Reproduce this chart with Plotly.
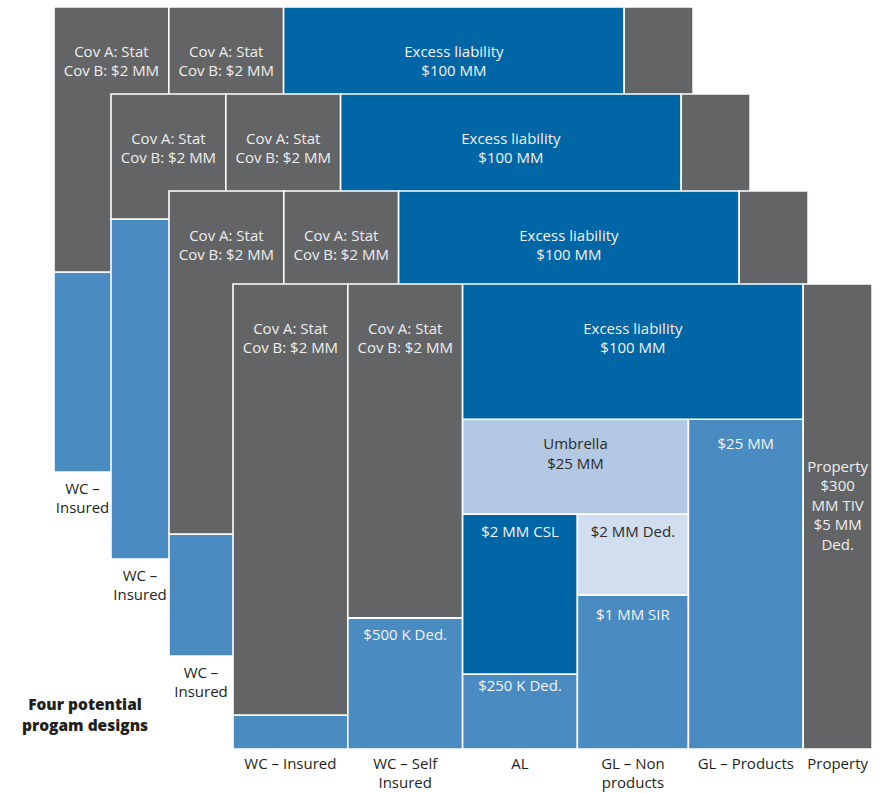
import plotly.graph_objects as go

# ---------------------------------------------------------------- data
# Lines of coverage, left to right, under each program tower
lines_of_coverage = ["WC – Insured", "WC – Self<br>Insured", "AL",
                     "GL – Non<br>products", "GL – Products", "Property"]

# Layers of the front program (share of tower height, %)
layer_labels = [
    "",
    "Cov A: Stat<br>Cov B: $2 MM",
    "$500 K Ded.",
    "Cov A: Stat<br>Cov B: $2 MM",
    "$250 K Ded.",
    "$2 MM CSL",
    "$1 MM SIR",
    "$2 MM Ded.",
    "Umbrella<br>$25 MM",
    "$25 MM",
    "Excess liability<br>$100 MM",
    "Property<br>$300<br>MM TIV<br>$5 MM<br>Ded.",
]
layer_first_line = [0, 0, 1, 1, 2, 2, 3, 3, 2, 4, 2, 5]
layer_lines_spanned = [1, 1, 1, 1, 1, 1, 1, 1, 2, 1, 3, 1]
layer_base = [0, 7.3, 0, 28.2, 0, 16.1, 0, 33.1, 50.5, 0, 70.9, 0]
layer_height = [7.3, 92.7, 28.2, 71.8, 16.1, 34.4, 33.1, 17.4, 20.4, 70.9, 29.1, 100]
layer_kind = ["retained", "employers", "retained", "employers", "retained",
              "primary", "retained", "deductible", "umbrella", "retained",
              "primary", "property"]

# Insured WC share of the tower in each of the four designs, back to front
wc_insured_share = [43.0, 73.1, 26.2, 7.3]

title_text = "Four potential<br>progam designs"

# ---------------------------------------------------------------- styling
W, H = 884, 793
PX_X = 114.8          # pixels per column unit
PX_Y = 4.65           # pixels per percent of tower height
COL_W = [1.0, 1.0, 1.0, 0.967, 1.0, 0.6]
FRONT_LEFT_PX, FRONT_BOTTOM_PX = 233, 749
DESIGN_LEFT_PX = [54, 111, 169, 233]
DESIGN_BOTTOM_PX = [472, 559, 656, 749]
# distance from a layer's top edge down to its first text line
FIRST_LINE_PX = [0, 45, 17, 45, 12, 17.7, 20, 17.7, 25, 24.5, 45, 184.5]
LINE_PITCH = 18.4
NUDGE = 1.5           # glyph centre vs. anchor point

FILL = {
    "employers": "#636466",
    "property": "#636466",
    "primary": "#0066A6",
    "retained": "#4A8BC2",
    "umbrella": "#B3C8E3",
    "deductible": "#D1DEEF",
}
TEXT_ON = {
    "employers": "#EEEEEE", "property": "#EEEEEE", "primary": "#F2F2F2",
    "retained": "#F2F2F2", "umbrella": "#2B2B2B", "deductible": "#2B2B2B",
}
FONT = "Open Sans"
SIZE = 15
INK = "#231F20"


def ux(px):
    return (px - FRONT_LEFT_PX) / PX_X


def uy(px):
    return (FRONT_BOTTOM_PX - px) / PX_Y


def add_label(store, x, top_y, first_px, text, color):
    """Queue a (possibly multi-line) label centred below top_y (data units)."""
    n = text.count("<br>") + 1
    centre_px = first_px + (n - 1) * LINE_PITCH / 2 + NUDGE
    store["x"].append(x)
    store["y"].append(top_y - centre_px / PX_Y)
    store["t"].append(text)
    store["c"].append(color)


col_edges = [0.0]
for w in COL_W:
    col_edges.append(col_edges[-1] + w)

fig = go.Figure()
last = len(wc_insured_share) - 1

for d, share in enumerate(wc_insured_share):
    dx = ux(DESIGN_LEFT_PX[d])
    dy = uy(DESIGN_BOTTOM_PX[d])
    base = list(layer_base)
    height = list(layer_height)
    height[0] = share
    base[1] = share
    height[1] = 100 - share

    labels = {"x": [], "y": [], "t": [], "c": []}
    for i in range(len(layer_labels)):
        c0 = layer_first_line[i]
        x0 = dx + col_edges[c0]
        x1 = dx + col_edges[c0 + layer_lines_spanned[i]]
        y0 = dy + base[i]
        y1 = y0 + height[i]
        kind = layer_kind[i]
        fig.add_trace(go.Scatter(
            x=[x0, x1, x1, x0, x0], y=[y0, y0, y1, y1, y0],
            mode="lines", fill="toself", fillcolor=FILL[kind],
            line=dict(color="#FFFFFF", width=1.6),
            hoverinfo="skip", showlegend=False,
        ))
        # towers further back only show the labels along their top row
        top_row = abs(base[i] + height[i] - 100) < 1e-9 and kind != "property"
        if layer_labels[i] and (d == last or top_row):
            add_label(labels, (x0 + x1) / 2, y1, FIRST_LINE_PX[i],
                      layer_labels[i], TEXT_ON[kind])

    # line-of-coverage captions under the tower
    if d < last:
        mid = ux((DESIGN_LEFT_PX[d] + DESIGN_LEFT_PX[d + 1]) / 2)
        add_label(labels, mid, dy, 17,
                  lines_of_coverage[0].replace(" – ", " –<br>"), INK)
    else:
        for c, name in enumerate(lines_of_coverage):
            mid = dx + (col_edges[c] + col_edges[c + 1]) / 2
            add_label(labels, mid, dy, 15, name, INK)

    fig.add_trace(go.Scatter(
        x=labels["x"], y=labels["y"], text=labels["t"], mode="text",
        textposition="middle center",
        textfont=dict(family=FONT, size=SIZE, color=labels["c"]),
        hoverinfo="skip", showlegend=False,
    ))

title = {"x": [], "y": [], "t": [], "c": []}
add_label(title, ux(85), uy(0), 706, title_text, INK)
fig.add_trace(go.Scatter(
    x=title["x"], y=title["y"], text=title["t"], mode="text",
    textposition="middle center",
    textfont=dict(family=FONT, size=15.5, color=INK, weight=800),
    hoverinfo="skip", showlegend=False,
))

fig.update_layout(
    width=W, height=H,
    margin=dict(l=0, r=0, t=0, b=0),
    paper_bgcolor="white", plot_bgcolor="white",
    hovermode=False,
    xaxis=dict(range=[ux(0), ux(W)], visible=False, fixedrange=True),
    yaxis=dict(range=[uy(H), uy(0)], visible=False, fixedrange=True),
)

fig.write_html("out.html")
